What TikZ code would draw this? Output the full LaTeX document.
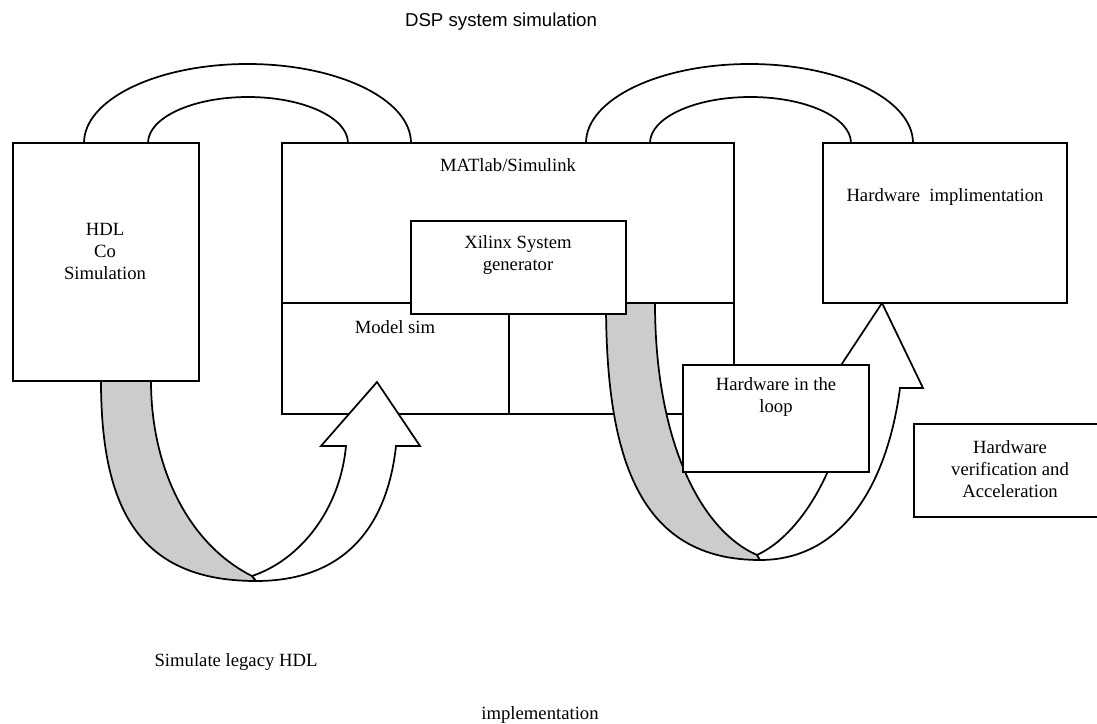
\documentclass[tikz,border=0pt]{standalone}
\usepackage{fontspec}
\setmainfont{Liberation Serif}
\newfontfamily\titlefont{Liberation Sans}
\usetikzlibrary{positioning, calc, fit}
\definecolor{dspGray}{HTML}{CCCCCC}

\begin{document}
\begin{tikzpicture}[x=0.75pt, y=-0.75pt,
  every node/.style={inner sep=0pt, outer sep=0pt, align=center,
                     font=\fontsize{14}{16.5}\selectfont},
  blk/.style={draw=black, fill=white, line width=1.3pt, fit={#1}},
  arch/.style={draw=black, fill=white, line width=1.3pt},
  twist/.style={draw=black, fill=dspGray, line width=1.3pt},
  uarrow/.style={draw=black, fill=white, line width=1.3pt, line join=miter},
  divider/.style={draw=black, line width=1.3pt}]
  \useasboundingbox (0,0) rectangle (1097,724);
  \clip (0,0) rectangle (1097,724);
  \fill[white] (0,0) rectangle (1097,724);

  % loops over the boxes
  \draw[arch] (84,143) arc[start angle=180, end angle=360, x radius=163.5, y radius=79]
    -- (348,143) arc[start angle=360, end angle=180, x radius=100, y radius=46] -- cycle;
  \draw[arch] (586,143) arc[start angle=180, end angle=360, x radius=163.5, y radius=79]
    -- (851,143) arc[start angle=360, end angle=180, x radius=100.5, y radius=46] -- cycle;

  % main blocks
  \node[blk={(13,143) (199,381)}] (hdl) {};
  \node[blk={(282,143) (734,414)}] (matlab) {};
  \draw[divider] (matlab.west |- 0,303) -- (matlab.east |- 0,303);
  \draw[divider] (509,303) -- (matlab.south -| 509,0);

  % twisted U-turn arrows
  \draw[twist] (101,381) .. controls (101,510) and (140,581) .. (256,581)
    -- (252,576) .. controls (190,545) and (151,470) .. (151,381) -- cycle;
  \draw[uarrow] (252,576) .. controls (300,560) and (340,510) .. (346,446)
    -- (321,446) -- (377,382) -- (420,446) -- (396,446)
    .. controls (388,520) and (350,581) .. (256,581) -- cycle;
  \draw[twist] (606,303) .. controls (606,460) and (640,560) .. (760,560)
    -- (757,555) .. controls (700,530) and (655,440) .. (655,303) -- cycle;
  \draw[uarrow] (757,555) .. controls (800,535) and (840,470) .. (851,388)
    -- (826,388) -- (882,303) -- (923,388) -- (900,388)
    .. controls (888,480) and (845,560) .. (760,560) -- cycle;

  \node[blk={(411,221) (626,314)}] (xsg) {};
  \node[blk={(683,365) (869,472)}] (hil) {};
  \node[blk={(823,143) (1067,303)}] (hwimpl) {};
  \node[blk={(914,424) (1106,517)}] (hwverif) {};

  % labels
  \node[font=\titlefont\fontsize{14}{16.5}\selectfont] (title) at (501,22) {DSP system simulation};
  \node (hdlText) at (105,251) {HDL\\Co\\Simulation};
  \node (matlabText) at (508,165) {MATlab/Simulink};
  \node (xsgText) at (518,255) {Xilinx System\\generator};
  \node (modelText) at (395,327) {Model sim};
  \node (hilText) at (776,397) {Hardware in the\\loop};
  \node (hwimplText) at (945,197) {Hardware\ \ implimentation};
  \node (hwverifText) at (1010,469) {Hardware\\verification and\\Acceleration};
  \node (legacyText) at (236,662) {Simulate legacy HDL};
  \node (implText) at (540,715) {implementation};
\end{tikzpicture}
\end{document}
